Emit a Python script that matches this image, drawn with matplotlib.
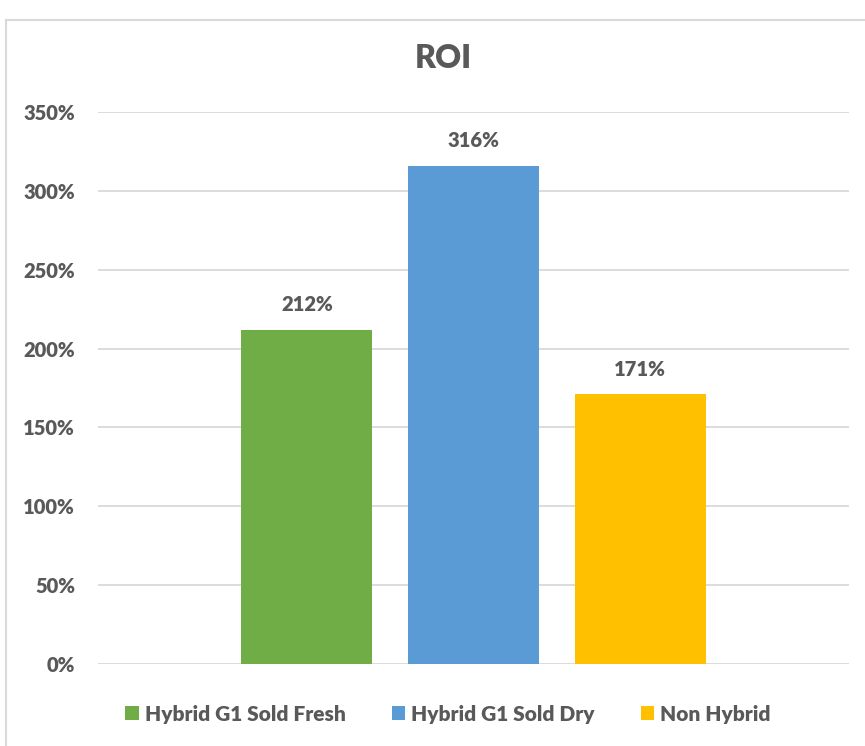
import matplotlib
matplotlib.use("Agg")
import matplotlib.pyplot as plt
from matplotlib.lines import Line2D
from matplotlib.ticker import FuncFormatter

series = ["Hybrid G1 Sold Fresh", "Hybrid G1 Sold Dry", "Non Hybrid"]
roi = [2.12, 3.16, 1.71]
colors = ["#70AD47", "#5B9BD5", "#FFC000"]
yticks = [0, 0.5, 1.0, 1.5, 2.0, 2.5, 3.0, 3.5]

plt.rcParams['font.family'] = ['Lato', 'DejaVu Sans']
text_col = "#595959"

fig = plt.figure(figsize=(8.65, 7.46), dpi=100)
ax = fig.add_axes([98/865, 1 - 664/746, (849-98)/865, (664-112)/746])

width = 0.175
offsets = [-0.222, 0.0, 0.222]
for name, v, c, off in zip(series, roi, colors, offsets):
    ax.bar(off, v, width=width, color=c, label=name, zorder=3)
    ax.text(off, v + 0.1, f"{v*100:.0f}%", ha='center', va='bottom',
            fontsize=14.5, fontweight='heavy', color=text_col)

ax.set_xlim(-0.5, 0.5)
ax.set_ylim(0, 3.5)
ax.set_yticks(yticks)
ax.yaxis.set_major_formatter(FuncFormatter(lambda v, p: f"{v*100:.0f}%"))
ax.set_xticks([])
ax.grid(axis='y', color="#D9D9D9", linewidth=1.3, zorder=0)
for s in ax.spines.values():
    s.set_visible(False)
ax.tick_params(axis='y', length=0, pad=16.5, labelsize=14.5, labelcolor=text_col)
for lbl in ax.get_yticklabels():
    lbl.set_fontweight('heavy')

fig.text(443/865, 1 - 58/746, "ROI", ha='center', va='center',
         fontsize=23, fontweight='heavy', color=text_col)

leg = fig.legend(loc='center', bbox_to_anchor=(448/865, 1 - 714/746), ncol=3,
                 frameon=False, handlelength=0.65, handleheight=0.65,
                 handletextpad=0.3, columnspacing=2.2,
                 prop={'size': 15, 'weight': 'heavy'})
for t in leg.get_texts():
    t.set_color(text_col)

# chart frame
fig.add_artist(Line2D([6/865, 6/865], [0, 1 - 20/746], transform=fig.transFigure,
                      color="#D9D9D9", linewidth=1.5))
fig.add_artist(Line2D([6/865, 1], [1 - 20/746, 1 - 20/746], transform=fig.transFigure,
                      color="#D9D9D9", linewidth=1.5))

fig.savefig("out.png", dpi=100, facecolor='white')
